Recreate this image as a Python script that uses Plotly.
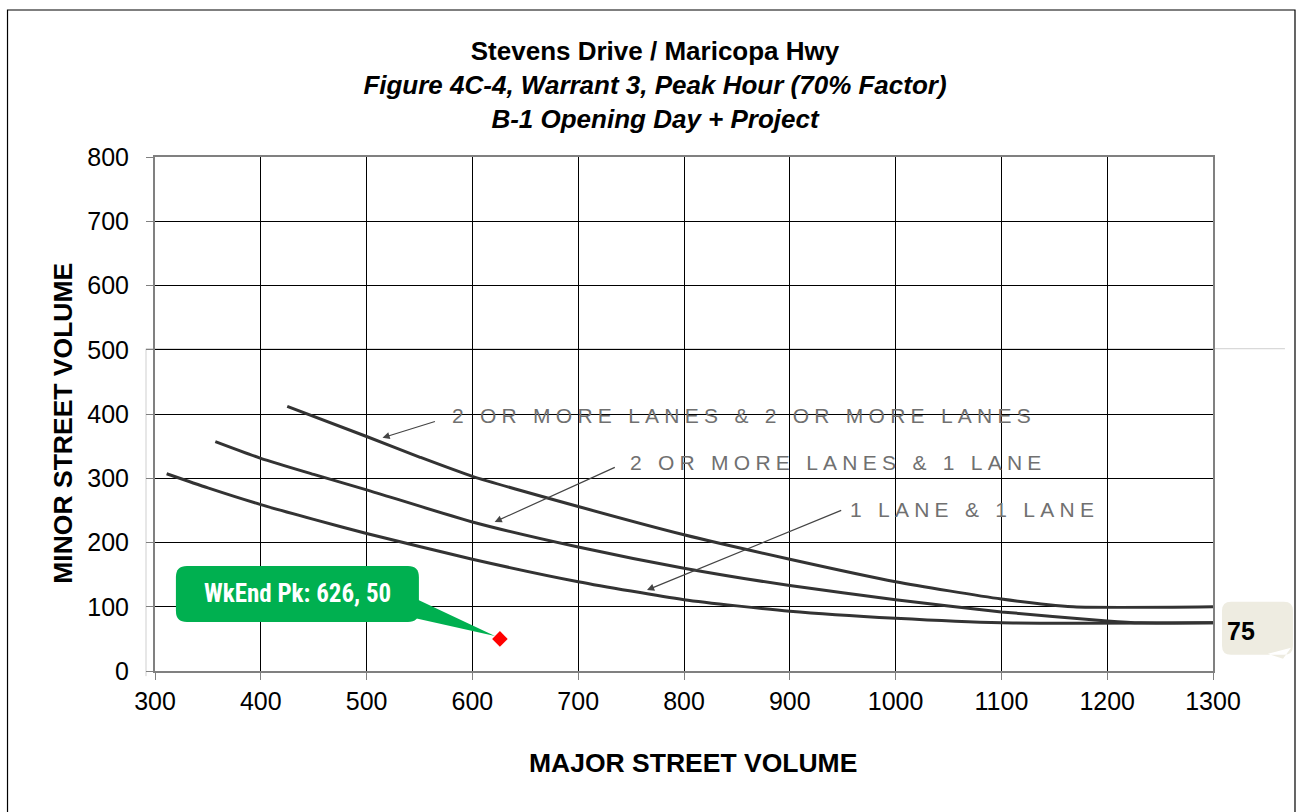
import plotly.graph_objects as go

# Warrant 3 peak-hour threshold curves (70% factor), major vs minor street volume
major_2x2 = [425, 500, 550, 600, 700, 800, 900, 1000, 1100, 1168, 1300]
minor_2x2 = [412, 365, 333, 303, 256, 212, 174, 139, 112, 100, 100]

major_2x1 = [357, 400, 450, 500, 600, 700, 800, 900, 1000, 1100, 1200, 1232, 1300]
minor_2x1 = [357, 331, 306, 282, 232, 193, 160, 133, 111, 92, 78, 75, 75]

major_1x1 = [311, 350, 400, 450, 500, 600, 700, 800, 900, 1000, 1100, 1300]
minor_1x1 = [307, 285, 259, 236, 214, 174, 139, 111, 93, 82, 75, 75]

curve_labels = ["2 OR MORE LANES & 2 OR MORE LANES",
                "2 OR MORE LANES & 1 LANE",
                "1 LANE & 1 LANE"]

# Study intersection volume (weekend peak)
point_major = [626]
point_minor = [50]
point_label = "WkEnd Pk"

threshold_low = 75

x_ticks = [300, 400, 500, 600, 700, 800, 900, 1000, 1100, 1200, 1300]
y_ticks = [0, 100, 200, 300, 400, 500, 600, 700, 800]

x_title = "MAJOR STREET VOLUME"
y_title = "MINOR STREET VOLUME"

FONT = "Liberation Sans, Arial, sans-serif"
NARROW = "Liberation Sans Narrow, Arial Narrow, Roboto Condensed, Liberation Sans, sans-serif"
CURVE_COLOR = "#333333"
LABEL_GRAY = "#707070"


def spaced(text):
    # widen the lettering the way the nomograph labels are set
    return "\u2005".join(text)


def rounded_rect(x0, y0, x1, y1, r):
    return (f"M {x0 + r},{y1} L {x1 - r},{y1} Q {x1},{y1} {x1},{y1 - r} "
            f"L {x1},{y0 + r} Q {x1},{y0} {x1 - r},{y0} L {x0 + r},{y0} "
            f"Q {x0},{y0} {x0},{y0 + r} L {x0},{y1 - r} Q {x0},{y1} {x0 + r},{y1} Z")


fig = go.Figure()

for xs, ys in [(major_2x2, minor_2x2), (major_2x1, minor_2x1), (major_1x1, minor_1x1)]:
    fig.add_trace(go.Scatter(
        x=xs, y=ys, mode="lines",
        line=dict(color=CURVE_COLOR, width=3, shape="spline", smoothing=0.6),
        hoverinfo="skip", showlegend=False,
    ))

fig.add_trace(go.Scatter(
    x=point_major, y=point_minor, mode="markers",
    marker=dict(symbol="diamond", size=12, color="#ff0000"),
    showlegend=False,
))

annotations = []
shapes = []

# curve labels with leader arrows
label_pos = [(579, 397), (747, 324), (955, 252)]
arrow_tail = [(566, 389), (736, 318), (950, 251)]
arrow_head = [(515, 363), (621, 232), (765, 126)]
for text, (lx, ly), (tx, ty), (hx, hy) in zip(curve_labels, label_pos, arrow_tail, arrow_head):
    annotations.append(dict(
        x=lx, y=ly, xref="x", yref="y", text=spaced(text), showarrow=False,
        xanchor="left", yanchor="middle",
        font=dict(family=FONT, size=21, color=LABEL_GRAY),
    ))
    annotations.append(dict(
        x=hx, y=hy, ax=tx, ay=ty, xref="x", yref="y", axref="x", ayref="y",
        text="", showarrow=True, arrowhead=2, arrowsize=1.2, arrowwidth=1.2,
        arrowcolor="#444444",
    ))

# green callout for the study point
shapes.append(dict(
    type="path", xref="x", yref="y", xsizemode="pixel", ysizemode="pixel",
    xanchor=point_major[0], yanchor=point_minor[0],
    path=rounded_rect(-324, 17, -81, 73, 11),
    fillcolor="#00b050", line=dict(width=0), layer="above",
))
shapes.append(dict(
    type="path", xref="x", yref="y", xsizemode="pixel", ysizemode="pixel",
    xanchor=point_major[0], yanchor=point_minor[0],
    path="M -90,43 L -5,3 L -90,22 Z",
    fillcolor="#00b050", line=dict(width=0), layer="above",
))
annotations.append(dict(
    x=point_major[0], y=point_minor[0], xref="x", yref="y",
    text=f"<b>{point_label}: {point_major[0]}, {point_minor[0]}</b>",
    showarrow=False, xshift=-202, yshift=45,
    font=dict(family=NARROW, size=25, color="white"),
))

# beige callout on the lower threshold
shapes.append(dict(
    type="path", xref="paper", yref="y", xsizemode="pixel", ysizemode="pixel",
    xanchor=1, yanchor=threshold_low,
    path=rounded_rect(9, -32, 80, 21, 9) + " M 55,-31 L 70,-36 L 78,-25 Z",
    fillcolor="#eeece1", line=dict(width=0), layer="above",
))
annotations.append(dict(
    x=1, y=threshold_low, xref="paper", yref="y", text=f"<b>{threshold_low}</b>",
    showarrow=False, xshift=44, yshift=-8,
    font=dict(family=FONT, size=25, color="black"),
))

# axis titles
annotations.append(dict(
    x=0.5085, y=-0.179, xref="paper", yref="paper", text=f"<b>{x_title}</b>",
    showarrow=False, xanchor="center", yanchor="middle",
    font=dict(family=FONT, size=26.5, color="black"),
))
annotations.append(dict(
    x=-0.0865, y=0.482, xref="paper", yref="paper", text=f"<b>{y_title}</b>",
    showarrow=False, xanchor="center", yanchor="middle", textangle=-90,
    font=dict(family=FONT, size=26.5, color="black"),
))

# edge of the nomograph inset
shapes.append(dict(type="line", xref="paper", yref="paper", x0=-0.0085, x1=1.068,
                   y0=0.627, y1=0.627, line=dict(color="#cfcfcf", width=1), layer="below"))
shapes.append(dict(type="line", xref="paper", yref="paper", x0=-0.0085, x1=-0.0085,
                   y0=-0.01, y1=0.627, line=dict(color="#cfcfcf", width=1), layer="below"))

# chart frame
shapes.append(dict(type="rect", xref="paper", yref="paper", x0=-0.1394, x1=1.0775,
                   y0=-0.29, y1=1.286, line=dict(color="black", width=1.2)))

fig.update_layout(
    width=1300, height=812,
    margin=dict(l=155, r=87, t=157, b=141),
    paper_bgcolor="white", plot_bgcolor="white",
    font=dict(family=FONT, color="black"),
    title=dict(
        text=("<b>Stevens Drive / Maricopa Hwy</b><br>"
              "<b><i>Figure 4C-4, Warrant 3, Peak Hour (70% Factor)</i></b><br>"
              "<b><i>B-1 Opening Day + Project</i></b>"),
        x=0.4726, xref="paper", xanchor="center",
        y=1 - 60 / 812, yref="container", yanchor="top",
        font=dict(family=FONT, size=26, color="black"),
    ),
    xaxis=dict(
        range=[300, 1300], tickvals=x_ticks, ticktext=[str(v) for v in x_ticks],
        showgrid=True, gridcolor="black", gridwidth=1,
        showline=True, linecolor="#808080", linewidth=2, mirror=True,
        ticks="outside", ticklen=7, tickcolor="#808080",
        tickfont=dict(family=FONT, size=25, color="black"),
        zeroline=False,
    ),
    yaxis=dict(
        range=[0, 800], tickvals=y_ticks, ticktext=[str(v) for v in y_ticks],
        showgrid=True, gridcolor="black", gridwidth=1,
        showline=True, linecolor="#808080", linewidth=2, mirror=True,
        ticks="outside", ticklen=7, tickcolor="#808080", ticklabelstandoff=12,
        tickfont=dict(family=FONT, size=25, color="black"),
        zeroline=False,
    ),
    annotations=annotations,
    shapes=shapes,
)

fig.write_html("out.html")
